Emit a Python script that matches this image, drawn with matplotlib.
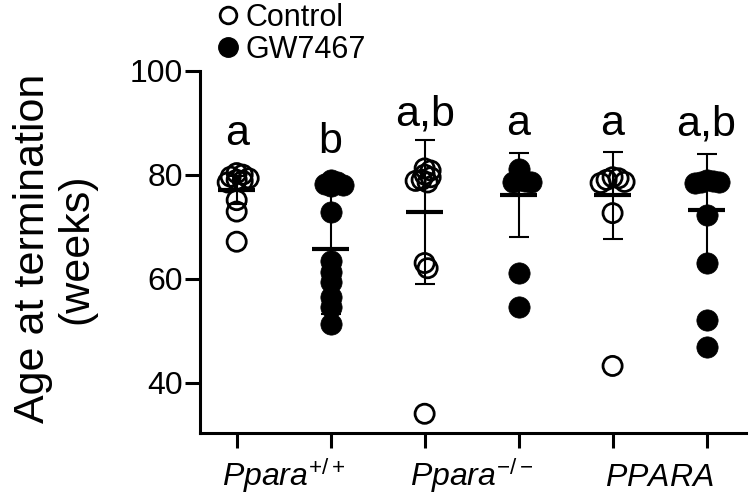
import matplotlib
matplotlib.use("Agg")
import matplotlib.pyplot as plt
from matplotlib.lines import Line2D
import numpy as np

plt.rcParams["font.family"] = ["Liberation Sans", "DejaVu Sans"]
plt.rcParams["mathtext.fontset"] = "custom"
plt.rcParams["mathtext.rm"] = "Liberation Sans"
plt.rcParams["mathtext.it"] = "Liberation Sans:italic"

# ---- data ---------------------------------------------------------------
treatment = ["Control", "GW7467", "Control", "GW7467", "Control", "GW7467"]
ppara_wt_ctrl = [80.3, 80.0, 79.6, 79.3, 79.0, 78.8, 78.5, 75.1, 72.9, 67.1]
ppara_wt_gw = [79.0, 78.5, 78.2, 78.0, 77.8, 72.8, 63.3, 61.3, 59.4, 56.5, 54.6, 51.2]
ppara_ko_ctrl = [81.2, 80.8, 80.0, 79.5, 79.0, 78.8, 78.5, 63.0, 62.0, 34.0]
ppara_ko_gw = [81.1, 79.0, 78.8, 78.6, 78.5, 61.0, 54.6]
ppara_hu_ctrl = [79.5, 79.3, 79.0, 78.6, 78.4, 72.6, 43.2]
ppara_hu_gw = [79.0, 78.8, 78.6, 78.5, 78.4, 72.2, 63.0, 52.1, 46.9]
values = [ppara_wt_ctrl, ppara_wt_gw, ppara_ko_ctrl, ppara_ko_gw, ppara_hu_ctrl, ppara_hu_gw]

means = [77.1, 65.7, 72.8, 76.1, 76.0, 73.2]
sds = [2.7, 12.5, 13.8, 8.0, 8.4, 10.7]

letters = ["a", "b", "a,b", "a", "a", "a,b"]
letter_y = [85.7, 84.2, 89.4, 87.6, 87.6, 87.6]

genotypes = [r"$\it{Ppara}^{+/+}$", r"$\it{Ppara}^{-/-}$", r"$\it{PPARA}$"]
yticks = [40, 60, 80, 100]


def swarm(ax, xc, vals, min_dist=6.0, step=3.0):
    """Spread overlapping points sideways (in pixels), beeswarm style."""
    pts = ax.transData.transform(np.column_stack([np.full(len(vals), xc), vals]))
    order = np.argsort(vals)[::-1]
    placed = []
    xs = np.zeros(len(vals))
    for i in order:
        py = pts[i, 1]
        k = 0
        found = None
        while found is None:
            cands = [0.0] if k == 0 else [k * step, -k * step]
            for c in cands:
                if all(np.hypot(c - qx, py - qy) >= min_dist for qx, qy in placed):
                    found = c
                    break
            k += 1
        placed.append((found, py))
        xs[i] = ax.transData.inverted().transform((pts[i, 0] + found, py))[0]
    return xs


fig = plt.figure(figsize=(7.5, 5.0), dpi=100)
ax = fig.add_axes([0.2667, 0.134, 0.728, 0.7246])
ax.set_xlim(-0.39, 5.42)
ax.set_ylim(30.3, 100)

x = np.arange(len(values))
for i, vals in enumerate(values):
    xs = swarm(ax, x[i], vals)
    if treatment[i] == "Control":
        ax.scatter(xs, vals, s=190, facecolor="none", edgecolor="black",
                   linewidth=2.0, zorder=3)
    else:
        ax.scatter(xs, vals, s=235, facecolor="black", edgecolor="black",
                   linewidth=0.5, zorder=3)

ax.errorbar(x, means, yerr=sds, fmt="none", ecolor="black", elinewidth=1.5,
            capsize=7, capthick=1.5, zorder=4)
ax.hlines(means, x - 0.2, x + 0.2, color="black", linewidth=3, zorder=4)

for i in range(len(letters)):
    ax.text(x[i], letter_y[i], letters[i], ha="center", va="baseline", fontsize=31)

for j, g in enumerate(genotypes):
    ax.text(2 * j + 0.5, -0.145, g, transform=ax.get_xaxis_transform(),
            ha="center", va="baseline", fontsize=23)

ax.spines["top"].set_visible(False)
ax.spines["right"].set_visible(False)
ax.spines["left"].set_linewidth(2.2)
ax.spines["bottom"].set_linewidth(2.2)
ax.set_xticks(x)
ax.set_xticklabels([])
ax.tick_params(axis="x", length=11, width=2.2)
ax.set_yticks(yticks)
ax.tick_params(axis="y", length=11, width=2.2, labelsize=23, pad=1.5)
ax.set_ylabel("Age at termination\n(weeks)", fontsize=31, va="center",
              linespacing=1.1)
ax.yaxis.set_label_coords(-0.266, 0.509)

handles = [
    Line2D([], [], linestyle="none", marker="o", markersize=12,
           markerfacecolor="white", markeredgecolor="black", markeredgewidth=2),
    Line2D([], [], linestyle="none", marker="o", markersize=14,
           markerfacecolor="black", markeredgecolor="black"),
]
fig.legend(handles, ["Control", "GW7467"], loc="upper left",
           bbox_to_anchor=(0.288, 0.995), frameon=False, fontsize=22,
           handlelength=0.8, handletextpad=0.15, labelspacing=0.08,
           borderpad=0, borderaxespad=0)

fig.savefig("out.png", dpi=100)
